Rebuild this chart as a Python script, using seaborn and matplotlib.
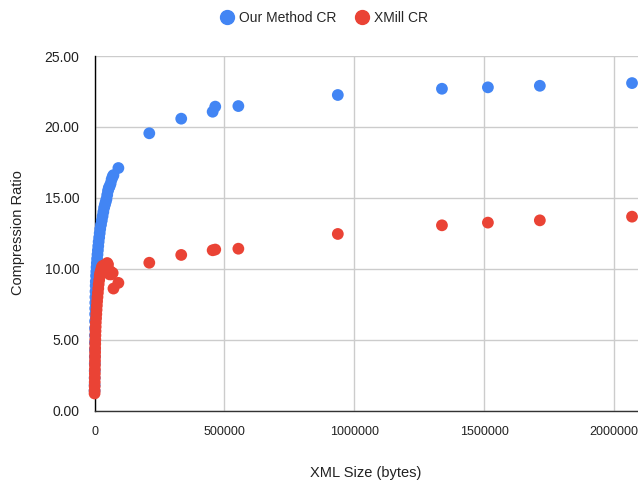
import pandas as pd
import matplotlib.pyplot as plt
import seaborn as sns
from matplotlib.lines import Line2D
from matplotlib.ticker import FormatStrFormatter, FixedLocator

# Datos (tamaño XML en bytes y razón de compresión)
xml_size = [300, 500, 700, 900, 1100, 1300, 1500, 1700, 1900, 2100,
            2300, 2500, 2800, 3100, 3500, 4000, 4500, 5000, 6000, 7000,
            8000, 9000, 10000, 11500, 13000, 14500, 16000, 18000, 20000, 22000,
            25000, 28000, 31000, 34000, 37000, 40000, 43000, 46000, 49000, 52000,
            55000, 58000, 62000, 66000, 70000, 73000, 92000,
            211000, 334000, 455000, 465000, 554000,
            937000, 1338000, 1515000, 1715000, 2070000]

our_cr = [1.4, 1.8, 2.3, 2.8, 3.3, 3.8, 4.3, 4.8, 5.3, 5.8,
          6.3, 6.8, 7.2, 7.6, 8.0, 8.4, 8.8, 9.1, 9.5, 9.8,
          10.1, 10.4, 10.7, 11.0, 11.3, 11.6, 11.9, 12.2, 12.5, 12.8,
          13.1, 13.4, 13.7, 14.0, 14.3, 14.5, 14.7, 14.9, 15.2, 15.5,
          15.7, 15.8, 16.0, 16.3, 16.5, 16.6, 17.1,
          19.55, 20.58, 21.07, 21.43, 21.47,
          22.25, 22.69, 22.79, 22.90, 23.09]

xmill_cr = [1.2, 1.4, 1.7, 2.0, 2.3, 2.6, 2.9, 3.2, 3.5, 3.8,
            4.1, 4.4, 4.7, 5.0, 5.3, 5.6, 5.9, 6.2, 6.5, 6.8,
            7.1, 7.4, 7.7, 8.0, 8.3, 8.6, 8.9, 9.2, 9.5, 9.7,
            9.9, 10.1, 10.2, 10.1, 10.0, 10.2, 10.3, 10.2, 10.4, 10.3,
            9.9, 9.6, 9.8, 9.6, 9.7, 8.6, 9.0,
            10.42, 10.97, 11.30, 11.35, 11.41,
            12.45, 13.06, 13.25, 13.41, 13.67]

series_names = ['Our Method CR', 'XMill CR']
colores = {'Our Method CR': '#4285F4', 'XMill CR': '#EA4335'}

x_ticks = [0, 500000, 1000000, 1500000, 2000000]
y_ticks = [0, 5, 10, 15, 20, 25]

# DataFrame en formato largo
n = len(xml_size)
df = pd.DataFrame({
    'size': xml_size * 2,
    'ratio': our_cr + xmill_cr,
    'serie': [series_names[0]] * n + [series_names[1]] * n,
})

sns.set_style("white")
plt.rcParams['font.family'] = ['Liberation Sans', 'DejaVu Sans']

fig = plt.figure(figsize=(6.38, 4.83), dpi=100)
ax = fig.add_axes([94.5 / 638, 1 - 410.5 / 483, 543.5 / 638, 354.5 / 483])

sns.scatterplot(data=df, x='size', y='ratio', hue='serie', palette=colores,
                s=72, linewidth=0, ax=ax, legend=False, clip_on=False, zorder=3)

ax.set_xlim(0, 2093000)
ax.set_ylim(0, 25)
ax.xaxis.set_major_locator(FixedLocator(x_ticks))
ax.yaxis.set_major_locator(FixedLocator(y_ticks))
ax.yaxis.set_major_formatter(FormatStrFormatter('%.2f'))
ax.set_xticklabels([str(v) for v in x_ticks])

ax.grid(True, color='#cccccc', linewidth=1)
ax.set_axisbelow(True)

for lado in ['top', 'right']:
    ax.spines[lado].set_visible(False)
ax.spines['left'].set_color('black')
ax.spines['left'].set_linewidth(1)
ax.spines['bottom'].set_color('#333333')
ax.spines['bottom'].set_linewidth(1)

ax.tick_params(axis='y', length=6, color='#cccccc', width=1, pad=5,
               labelsize=10, labelcolor='#222222')
ax.tick_params(axis='x', length=5, color='#333333', width=1, pad=6,
               labelsize=9, labelcolor='#222222')
for t in ax.xaxis.get_major_ticks()[1:]:
    t.tick1line.set_visible(False)

ax.set_xlabel('')
ax.set_ylabel('')
fig.text(18.5 / 638, 1 - 233 / 483, 'Compression Ratio', rotation=90,
         ha='center', va='center', fontsize=10.5, color='#222222')
fig.text(366 / 638, 1 - 473 / 483, 'XML Size (bytes)',
         ha='center', va='center', fontsize=10.5, color='#222222')

# Leyenda superior
handles = [Line2D([], [], marker='o', ls='', color=colores[s], markersize=10)
           for s in series_names]
fig.legend(handles, series_names, loc='center', bbox_to_anchor=(324 / 638, 1 - 18 / 483),
           ncol=2, frameon=False, fontsize=10, handletextpad=0.4,
           columnspacing=1.3, handlelength=1.0)

plt.savefig('out.png', dpi=100)
plt.close()
